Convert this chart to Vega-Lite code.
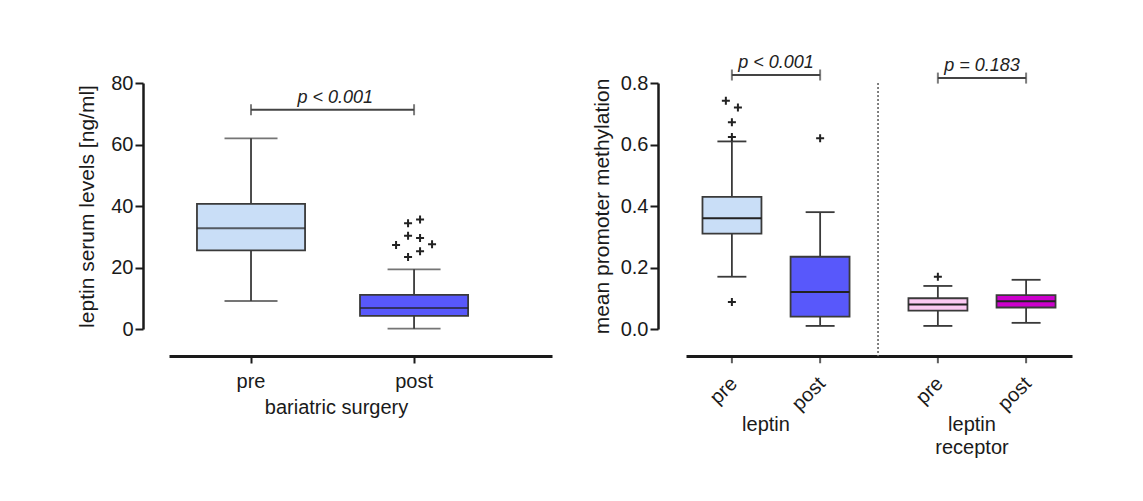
{
  "$schema": "https://vega.github.io/schema/vega-lite/v6.json",
  "background": "white",
  "padding": {"left": 76, "top": 54, "right": 5, "bottom": 5},
  "spacing": 39,
  "resolve": {"scale": {"color": "independent"}},
  "config": {
    "font": "Liberation Sans",
    "view": {"stroke": null},
    "axis": {
      "grid": false,
      "domainColor": "#1a1a1a",
      "tickColor": "#1a1a1a",
      "labelColor": "#1a1a1a",
      "titleColor": "#1a1a1a",
      "labelFontSize": 20,
      "titleFontSize": 20,
      "titleFontWeight": "normal",
      "labelFont": "Liberation Sans",
      "titleFont": "Liberation Sans"
    }
  },
  "datasets": {
    "serum": [
      {"time": "pre", "lower": 9.1, "q1": 25.6, "median": 32.8, "q3": 40.7, "upper": 62.0},
      {"time": "post", "lower": 0.1, "q1": 4.3, "median": 6.8, "q3": 11.1, "upper": 19.4}
    ],
    "serumOutliers": [
      {"time": "post", "value": 35.6, "column": 5},
      {"time": "post", "value": 34.4, "column": 3},
      {"time": "post", "value": 30.3, "column": 3},
      {"time": "post", "value": 29.6, "column": 5},
      {"time": "post", "value": 27.6, "column": 7},
      {"time": "post", "value": 27.3, "column": 1},
      {"time": "post", "value": 25.3, "column": 5},
      {"time": "post", "value": 23.4, "column": 3}
    ],
    "serumTest": [
      {"from": "pre", "to": "post", "label": "p < 0.001", "level": 71.3}
    ],
    "methylation": [
      {"gene": "leptin", "time": "pre", "series": "leptin pre", "lower": 0.17, "q1": 0.31, "median": 0.36, "q3": 0.43, "upper": 0.61},
      {"gene": "leptin", "time": "post", "series": "leptin post", "lower": 0.01, "q1": 0.04, "median": 0.12, "q3": 0.235, "upper": 0.38},
      {"gene": "leptin receptor", "time": "pre", "series": "receptor pre", "lower": 0.01, "q1": 0.06, "median": 0.08, "q3": 0.1, "upper": 0.14},
      {"gene": "leptin receptor", "time": "post", "series": "receptor post", "lower": 0.02, "q1": 0.07, "median": 0.09, "q3": 0.11, "upper": 0.16}
    ],
    "methylationOutliers": [
      {"gene": "leptin", "time": "pre", "value": 0.742, "column": 3},
      {"gene": "leptin", "time": "pre", "value": 0.72, "column": 5},
      {"gene": "leptin", "time": "pre", "value": 0.672, "column": 4},
      {"gene": "leptin", "time": "pre", "value": 0.624, "column": 4},
      {"gene": "leptin", "time": "pre", "value": 0.088, "column": 4},
      {"gene": "leptin", "time": "post", "value": 0.62, "column": 4},
      {"gene": "leptin receptor", "time": "pre", "value": 0.17, "column": 4}
    ],
    "methylationTests": [
      {"gene": "leptin", "label": "p < 0.001", "level": 0.826},
      {"gene": "leptin receptor", "label": "p = 0.183", "level": 0.816}
    ]
  },
  "hconcat": [
    {
      "width": 383,
      "height": 246,
      "data": {"name": "serum"},
      "layer": [
        {
          "mark": {"type": "rule", "color": "#3a3a3a", "strokeWidth": 1.8},
          "encoding": {
            "x": {
              "field": "time", "type": "nominal", "sort": ["pre", "post"],
              "scale": {"domain": ["pre", "post"], "paddingInner": 0.337, "paddingOuter": 0.343, "align": 0.25},
              "axis": {"offset": 27, "tickSize": 7, "tickWidth": 2, "domainWidth": 3, "labelAngle": 0, "labelPadding": 8, "title": "bariatric surgery", "titlePadding": 6, "titleX": 167}
            },
            "y": {
              "field": "lower", "type": "quantitative",
              "scale": {"domain": [0, 80], "nice": false, "zero": false},
              "axis": {"offset": 26, "values": [0, 20, 40, 60, 80], "tickSize": 8, "tickWidth": 2, "domainWidth": 2.5, "labelPadding": 2, "title": "leptin serum levels [ng/ml]", "titleFontSize": 21, "titlePadding": 13}
            },
            "y2": {"field": "upper"}
          }
        },
        {
          "mark": {"type": "tick", "color": "#3a3a3a", "thickness": 1.8, "size": 53},
          "encoding": {"x": {"field": "time", "type": "nominal"}, "y": {"field": "upper", "type": "quantitative"}}
        },
        {
          "mark": {"type": "tick", "color": "#3a3a3a", "thickness": 1.8, "size": 53},
          "encoding": {"x": {"field": "time", "type": "nominal"}, "y": {"field": "lower", "type": "quantitative"}}
        },
        {
          "mark": {"type": "bar", "stroke": "#3a3a3a", "strokeWidth": 1.8},
          "encoding": {
            "x": {"field": "time", "type": "nominal"},
            "y": {"field": "q1", "type": "quantitative"},
            "y2": {"field": "q3"},
            "color": {"field": "time", "type": "nominal", "scale": {"domain": ["pre", "post"], "range": ["#c9def7", "#5858fb"]}, "legend": null}
          }
        },
        {
          "mark": {"type": "tick", "color": "#222222", "thickness": 2, "size": 108},
          "encoding": {"x": {"field": "time", "type": "nominal"}, "y": {"field": "median", "type": "quantitative"}}
        },
        {
          "data": {"name": "serumOutliers"},
          "transform": [{"filter": "datum.column == 1"}],
          "mark": {"type": "point", "shape": "M-1,0L1,0M0,-1L0,1", "filled": false, "color": "#222222", "strokeWidth": 2, "size": 64, "opacity": 1},
          "encoding": {"x": {"field": "time", "type": "nominal", "bandPosition": 0.3335}, "y": {"field": "value", "type": "quantitative"}}
        },
        {
          "data": {"name": "serumOutliers"},
          "transform": [{"filter": "datum.column == 3"}],
          "mark": {"type": "point", "shape": "M-1,0L1,0M0,-1L0,1", "filled": false, "color": "#222222", "strokeWidth": 2, "size": 64, "opacity": 1},
          "encoding": {"x": {"field": "time", "type": "nominal", "bandPosition": 0.4445}, "y": {"field": "value", "type": "quantitative"}}
        },
        {
          "data": {"name": "serumOutliers"},
          "transform": [{"filter": "datum.column == 5"}],
          "mark": {"type": "point", "shape": "M-1,0L1,0M0,-1L0,1", "filled": false, "color": "#222222", "strokeWidth": 2, "size": 64, "opacity": 1},
          "encoding": {"x": {"field": "time", "type": "nominal", "bandPosition": 0.5555}, "y": {"field": "value", "type": "quantitative"}}
        },
        {
          "data": {"name": "serumOutliers"},
          "transform": [{"filter": "datum.column == 7"}],
          "mark": {"type": "point", "shape": "M-1,0L1,0M0,-1L0,1", "filled": false, "color": "#222222", "strokeWidth": 2, "size": 64, "opacity": 1},
          "encoding": {"x": {"field": "time", "type": "nominal", "bandPosition": 0.6665}, "y": {"field": "value", "type": "quantitative"}}
        },
        {
          "data": {"name": "serumTest"},
          "mark": {"type": "rule", "color": "#444444", "strokeWidth": 2},
          "encoding": {
            "x": {"field": "from", "type": "nominal", "bandPosition": 0.5},
            "x2": {"field": "to", "bandPosition": 0.5},
            "y": {"field": "level", "type": "quantitative"}
          }
        },
        {
          "data": {"name": "serumTest"},
          "transform": [{"fold": ["from", "to"], "as": ["end", "time"]}],
          "mark": {"type": "tick", "orient": "vertical", "color": "#444444", "thickness": 2, "size": 11},
          "encoding": {
            "x": {"field": "time", "type": "nominal"},
            "y": {"field": "level", "type": "quantitative"}
          }
        },
        {
          "data": {"name": "serumTest"},
          "mark": {"type": "text", "fontSize": 18, "fontStyle": "italic", "color": "#222222", "baseline": "bottom", "dy": -3},
          "encoding": {
            "x": {"field": "from", "type": "nominal", "bandPosition": 1.28},
            "y": {"field": "level", "type": "quantitative"},
            "text": {"field": "label"}
          }
        }
      ]
    },
    {
      "width": 386,
      "height": 246,
      "data": {"name": "methylation"},
      "layer": [
        {
          "transform": [{"filter": "datum.time == 'pre'"}],
          "mark": {"type": "rule", "color": "#3a3a3a", "strokeWidth": 1.8},
          "encoding": {
            "x": {
              "field": "gene", "type": "nominal", "bandPosition": 0.2,
              "scale": {"domain": ["leptin", "leptin receptor"], "paddingInner": 0.286, "paddingOuter": 0.08},
              "axis": {"offset": 27, "ticks": false, "domainWidth": 3, "labelAngle": 0, "labelPadding": 58, "labelOffset": -10, "labelBaseline": "top", "labelLineHeight": 23, "labelExpr": "datum.label == 'leptin receptor' ? ['leptin', 'receptor'] : datum.label", "title": null}
            },
            "y": {
              "field": "lower", "type": "quantitative",
              "scale": {"domain": [0, 0.8], "nice": false, "zero": false},
              "axis": {"offset": 28, "values": [0, 0.2, 0.4, 0.6, 0.8], "format": ".1f", "tickSize": 8, "tickWidth": 2, "domainWidth": 2.5, "labelPadding": 2, "title": "mean promoter methylation", "titleFontSize": 21, "titlePadding": 8}
            },
            "y2": {"field": "upper"}
          }
        },
        {
          "transform": [{"filter": "datum.time == 'post'"}],
          "mark": {"type": "rule", "color": "#3a3a3a", "strokeWidth": 1.8},
          "encoding": {"x": {"field": "gene", "type": "nominal", "bandPosition": 0.8}, "y": {"field": "lower", "type": "quantitative"}, "y2": {"field": "upper"}}
        },
        {
          "transform": [{"filter": "datum.time == 'pre'"}],
          "mark": {"type": "rule", "color": "#3a3a3a", "strokeWidth": 1.8},
          "encoding": {"x": {"field": "gene", "type": "nominal", "bandPosition": 0.1015}, "x2": {"field": "gene", "bandPosition": 0.2985}, "y": {"field": "upper", "type": "quantitative"}}
        },
        {
          "transform": [{"filter": "datum.time == 'pre'"}],
          "mark": {"type": "rule", "color": "#3a3a3a", "strokeWidth": 1.8},
          "encoding": {"x": {"field": "gene", "type": "nominal", "bandPosition": 0.1015}, "x2": {"field": "gene", "bandPosition": 0.2985}, "y": {"field": "lower", "type": "quantitative"}}
        },
        {
          "transform": [{"filter": "datum.time == 'post'"}],
          "mark": {"type": "rule", "color": "#3a3a3a", "strokeWidth": 1.8},
          "encoding": {"x": {"field": "gene", "type": "nominal", "bandPosition": 0.7015}, "x2": {"field": "gene", "bandPosition": 0.8985}, "y": {"field": "upper", "type": "quantitative"}}
        },
        {
          "transform": [{"filter": "datum.time == 'post'"}],
          "mark": {"type": "rule", "color": "#3a3a3a", "strokeWidth": 1.8},
          "encoding": {"x": {"field": "gene", "type": "nominal", "bandPosition": 0.7015}, "x2": {"field": "gene", "bandPosition": 0.8985}, "y": {"field": "lower", "type": "quantitative"}}
        },
        {
          "transform": [{"filter": "datum.time == 'pre'"}],
          "mark": {"type": "rect", "stroke": "#3a3a3a", "strokeWidth": 1.8},
          "encoding": {
            "x": {"field": "gene", "type": "nominal", "bandPosition": 0},
            "x2": {"field": "gene", "bandPosition": 0.401},
            "y": {"field": "q1", "type": "quantitative"},
            "y2": {"field": "q3"},
            "color": {"field": "series", "type": "nominal", "scale": {"domain": ["leptin pre", "leptin post", "receptor pre", "receptor post"], "range": ["#c9def7", "#5858fb", "#fbc9f2", "#cc00cc"]}, "legend": null}
          }
        },
        {
          "transform": [{"filter": "datum.time == 'post'"}],
          "mark": {"type": "rect", "stroke": "#3a3a3a", "strokeWidth": 1.8},
          "encoding": {
            "x": {"field": "gene", "type": "nominal", "bandPosition": 0.599},
            "x2": {"field": "gene", "bandPosition": 1},
            "y": {"field": "q1", "type": "quantitative"},
            "y2": {"field": "q3"},
            "color": {"field": "series", "type": "nominal"}
          }
        },
        {
          "transform": [{"filter": "datum.time == 'pre'"}],
          "mark": {"type": "rule", "color": "#222222", "strokeWidth": 2},
          "encoding": {"x": {"field": "gene", "type": "nominal", "bandPosition": 0}, "x2": {"field": "gene", "bandPosition": 0.401}, "y": {"field": "median", "type": "quantitative"}}
        },
        {
          "transform": [{"filter": "datum.time == 'post'"}],
          "mark": {"type": "rule", "color": "#222222", "strokeWidth": 2},
          "encoding": {"x": {"field": "gene", "type": "nominal", "bandPosition": 0.599}, "x2": {"field": "gene", "bandPosition": 1}, "y": {"field": "median", "type": "quantitative"}}
        },
        {
          "transform": [{"filter": "datum.time == 'pre'"}],
          "mark": {"type": "tick", "orient": "vertical", "color": "#1a1a1a", "thickness": 2, "size": 7},
          "encoding": {"x": {"field": "gene", "type": "nominal", "bandPosition": 0.2}, "y": {"datum": -0.1}}
        },
        {
          "transform": [{"filter": "datum.time == 'post'"}],
          "mark": {"type": "tick", "orient": "vertical", "color": "#1a1a1a", "thickness": 2, "size": 7},
          "encoding": {"x": {"field": "gene", "type": "nominal", "bandPosition": 0.8}, "y": {"datum": -0.1}}
        },
        {
          "transform": [{"filter": "datum.time == 'pre'"}],
          "mark": {"type": "text", "fontSize": 20, "angle": 315, "align": "right", "baseline": "middle", "color": "#1a1a1a", "dx": 3},
          "encoding": {"x": {"field": "gene", "type": "nominal", "bandPosition": 0.2}, "y": {"datum": -0.175}, "text": {"field": "time"}}
        },
        {
          "transform": [{"filter": "datum.time == 'post'"}],
          "mark": {"type": "text", "fontSize": 20, "angle": 315, "align": "right", "baseline": "middle", "color": "#1a1a1a", "dx": 3},
          "encoding": {"x": {"field": "gene", "type": "nominal", "bandPosition": 0.8}, "y": {"datum": -0.175}, "text": {"field": "time"}}
        },
        {
          "mark": {"type": "rule", "color": "#777777", "strokeWidth": 1, "strokeDash": [2, 2]},
          "encoding": {
            "x": {"datum": "leptin", "type": "nominal", "bandPosition": 1.194},
            "y": {"datum": 0.8},
            "y2": {"datum": -0.088}
          }
        },
        {
          "data": {"name": "methylationOutliers"},
          "transform": [{"filter": "datum.time == 'pre' && datum.column == 4"}],
          "mark": {"type": "point", "shape": "M-1,0L1,0M0,-1L0,1", "filled": false, "color": "#222222", "strokeWidth": 2, "size": 64, "opacity": 1},
          "encoding": {"x": {"field": "gene", "type": "nominal", "bandPosition": 0.2}, "y": {"field": "value", "type": "quantitative"}}
        },
        {
          "data": {"name": "methylationOutliers"},
          "transform": [{"filter": "datum.time == 'pre' && datum.column == 3"}],
          "mark": {"type": "point", "shape": "M-1,0L1,0M0,-1L0,1", "filled": false, "color": "#222222", "strokeWidth": 2, "size": 64, "opacity": 1},
          "encoding": {"x": {"field": "gene", "type": "nominal", "bandPosition": 0.159}, "y": {"field": "value", "type": "quantitative"}}
        },
        {
          "data": {"name": "methylationOutliers"},
          "transform": [{"filter": "datum.time == 'pre' && datum.column == 5"}],
          "mark": {"type": "point", "shape": "M-1,0L1,0M0,-1L0,1", "filled": false, "color": "#222222", "strokeWidth": 2, "size": 64, "opacity": 1},
          "encoding": {"x": {"field": "gene", "type": "nominal", "bandPosition": 0.241}, "y": {"field": "value", "type": "quantitative"}}
        },
        {
          "data": {"name": "methylationOutliers"},
          "transform": [{"filter": "datum.time == 'post'"}],
          "mark": {"type": "point", "shape": "M-1,0L1,0M0,-1L0,1", "filled": false, "color": "#222222", "strokeWidth": 2, "size": 64, "opacity": 1},
          "encoding": {"x": {"field": "gene", "type": "nominal", "bandPosition": 0.8}, "y": {"field": "value", "type": "quantitative"}}
        },
        {
          "data": {"name": "methylationTests"},
          "mark": {"type": "rule", "color": "#444444", "strokeWidth": 2},
          "encoding": {
            "x": {"field": "gene", "type": "nominal", "bandPosition": 0.2},
            "x2": {"field": "gene", "bandPosition": 0.8},
            "y": {"field": "level", "type": "quantitative"}
          }
        },
        {
          "data": {"name": "methylationTests"},
          "mark": {"type": "tick", "orient": "vertical", "color": "#444444", "thickness": 2, "size": 11},
          "encoding": {"x": {"field": "gene", "type": "nominal", "bandPosition": 0.2}, "y": {"field": "level", "type": "quantitative"}}
        },
        {
          "data": {"name": "methylationTests"},
          "mark": {"type": "tick", "orient": "vertical", "color": "#444444", "thickness": 2, "size": 11},
          "encoding": {"x": {"field": "gene", "type": "nominal", "bandPosition": 0.8}, "y": {"field": "level", "type": "quantitative"}}
        },
        {
          "data": {"name": "methylationTests"},
          "mark": {"type": "text", "fontSize": 18, "fontStyle": "italic", "color": "#222222", "baseline": "bottom", "dy": -3},
          "encoding": {
            "x": {"field": "gene", "type": "nominal"},
            "y": {"field": "level", "type": "quantitative"},
            "text": {"field": "label"}
          }
        }
      ]
    }
  ]
}
